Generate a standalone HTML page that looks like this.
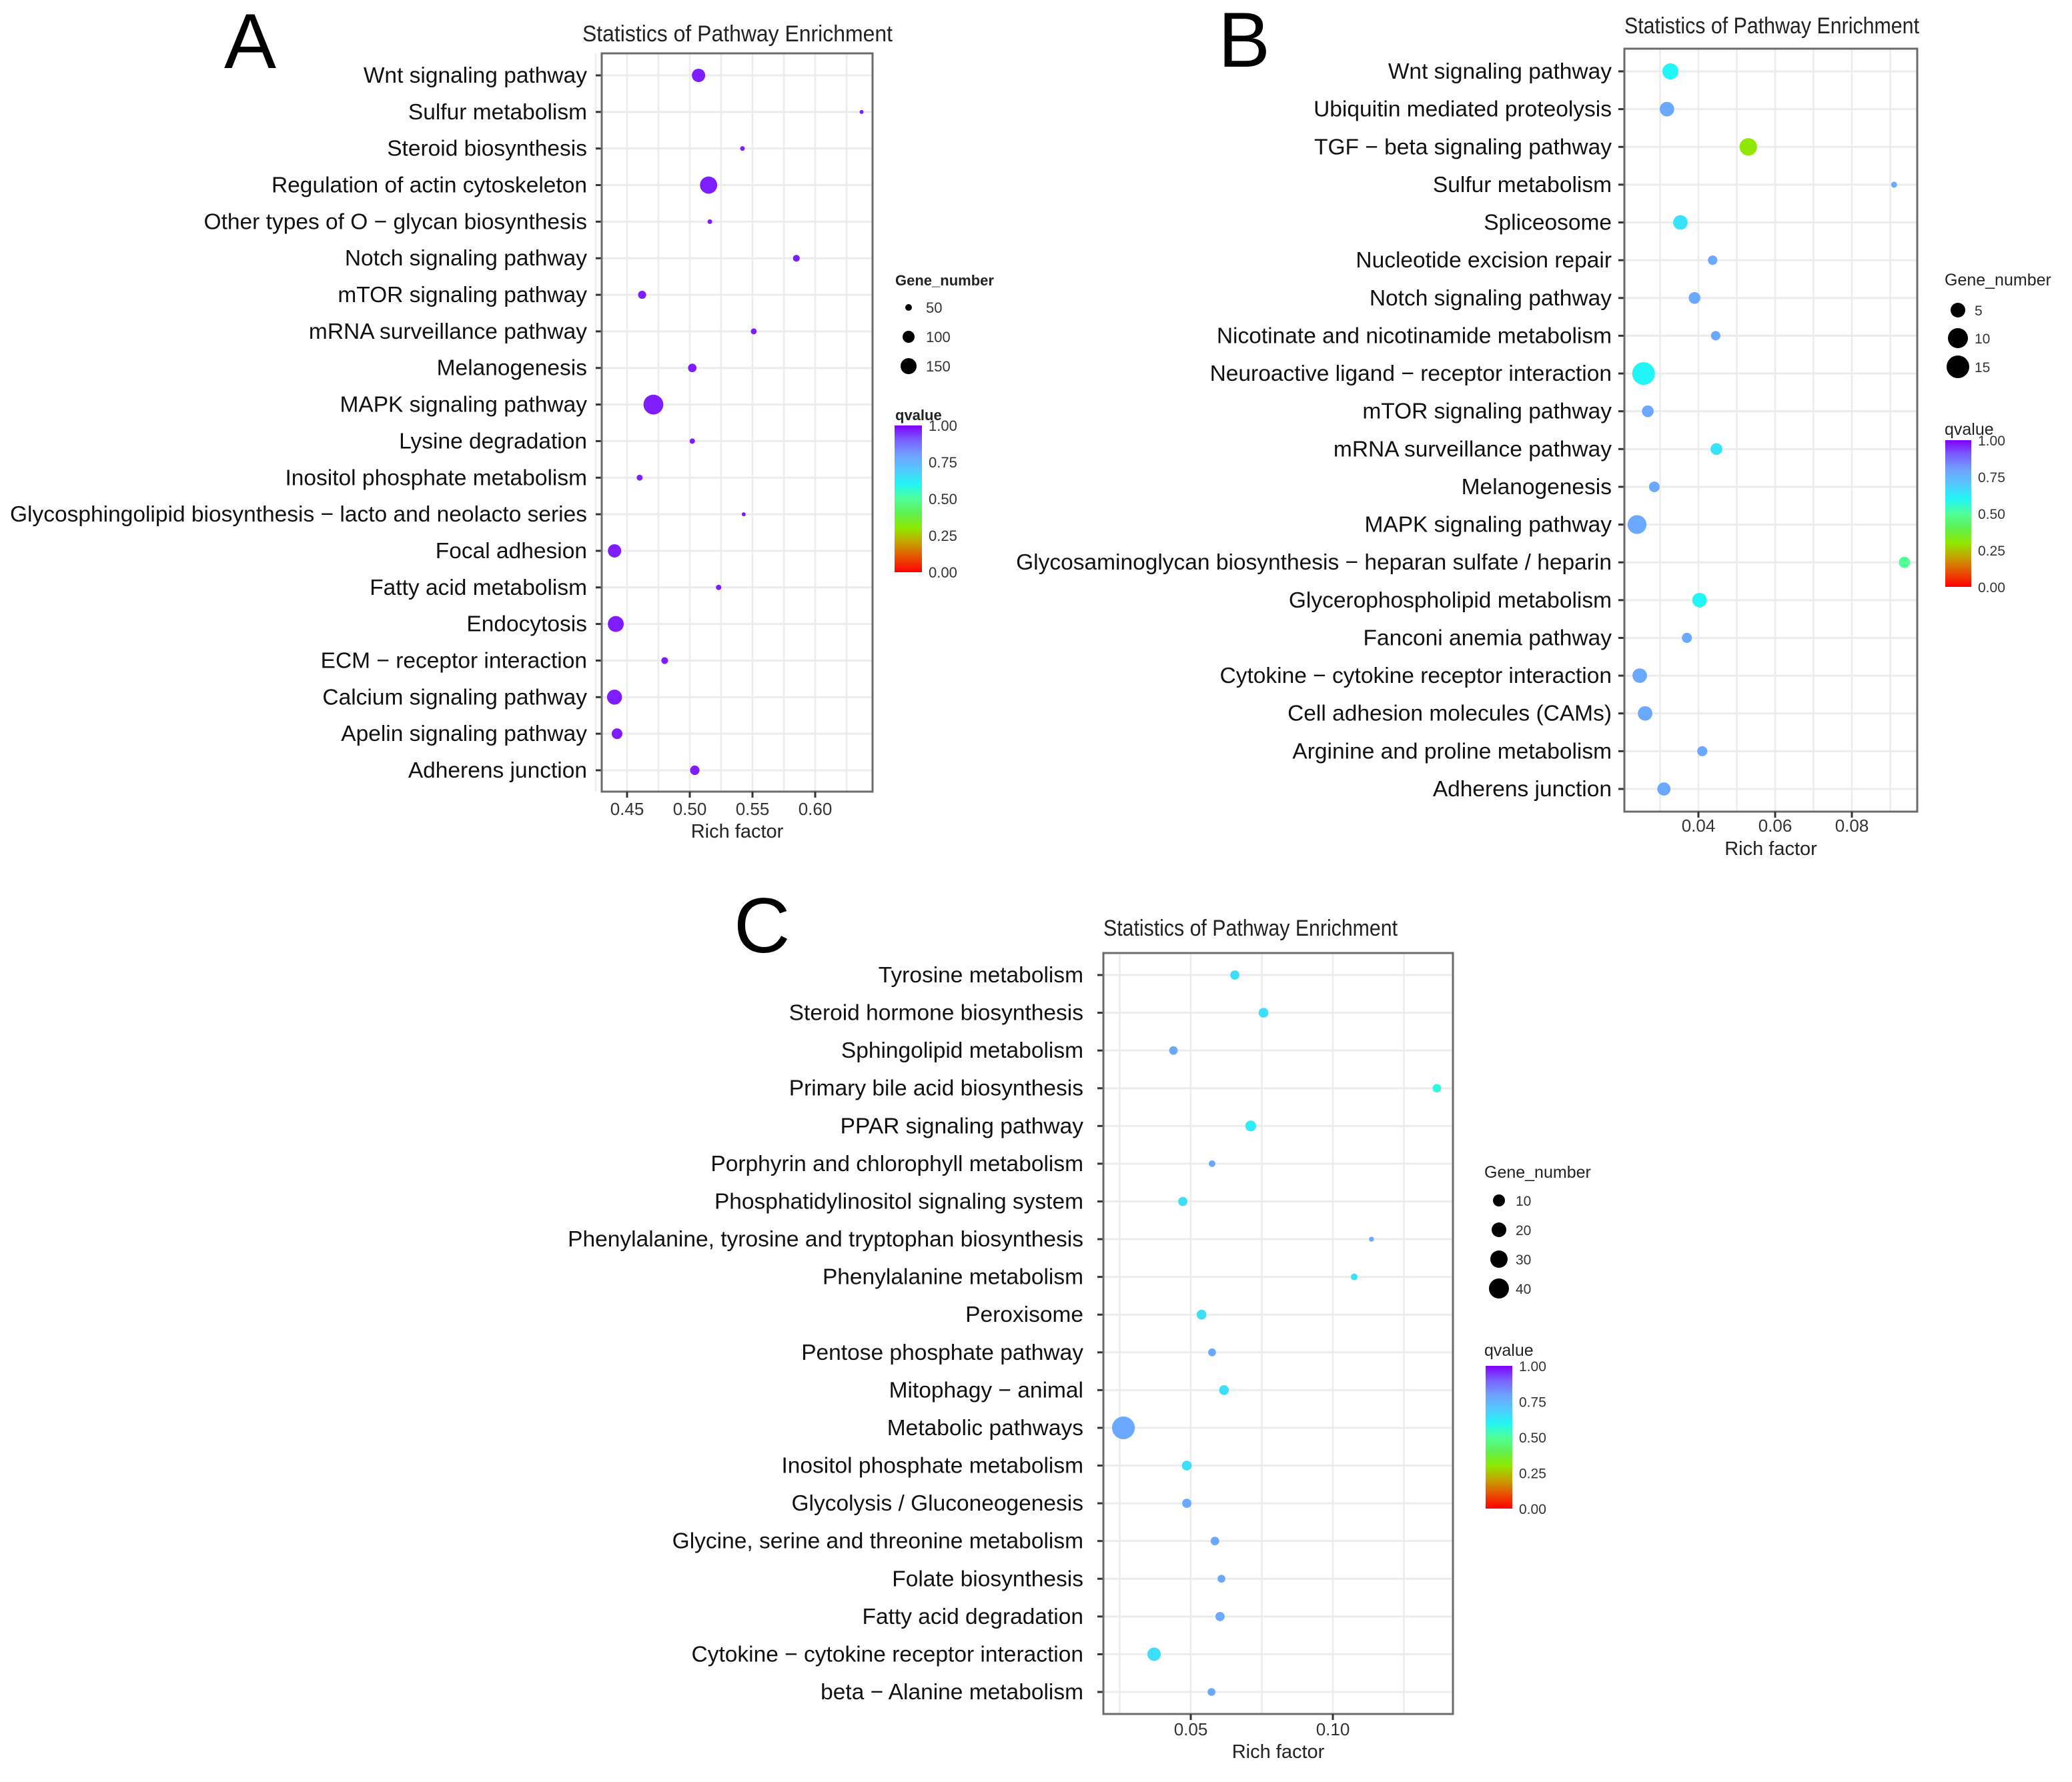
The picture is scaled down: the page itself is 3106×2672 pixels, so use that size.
<!DOCTYPE html>
<html><head><meta charset="utf-8">
<style>
html,body{margin:0;padding:0;background:#fff;}
svg{display:block;font-family:"Liberation Sans",Arial,sans-serif;}
</style></head>
<body>
<svg id="fig" width="3106" height="2672" viewBox="0 0 3106 2672" xmlns="http://www.w3.org/2000/svg">
<defs>
<linearGradient id="qgrad" x1="0" y1="1" x2="0" y2="0">
<stop offset="0" stop-color="#ff0000"/><stop offset="0.1" stop-color="#e85000"/><stop offset="0.2" stop-color="#c8a000"/>
<stop offset="0.3" stop-color="#90e800"/><stop offset="0.4" stop-color="#60f050"/><stop offset="0.5" stop-color="#50ff9a"/>
<stop offset="0.6" stop-color="#22f5f5"/><stop offset="0.7" stop-color="#55c8ff"/><stop offset="0.8" stop-color="#70a0ff"/>
<stop offset="0.9" stop-color="#7860ff"/><stop offset="1" stop-color="#8000ff"/>
</linearGradient>
</defs>
</svg>
<script>
// ---- Panel A data ----
const catsA = ["Wnt signaling pathway","Sulfur metabolism","Steroid biosynthesis","Regulation of actin cytoskeleton","Other types of O − glycan biosynthesis","Notch signaling pathway","mTOR signaling pathway","mRNA surveillance pathway","Melanogenesis","MAPK signaling pathway","Lysine degradation","Inositol phosphate metabolism","Glycosphingolipid biosynthesis − lacto and neolacto series","Focal adhesion","Fatty acid metabolism","Endocytosis","ECM − receptor interaction","Calcium signaling pathway","Apelin signaling pathway","Adherens junction"];
const richA = [0.507,0.637,0.542,0.515,0.516,0.585,0.462,0.551,0.502,0.471,0.502,0.460,0.543,0.440,0.523,0.441,0.480,0.440,0.442,0.504];
const genesA = [120,12,20,165,20,45,60,35,65,195,28,35,12,120,28,150,45,140,90,75];
const qA = [0.97,0.97,0.97,0.97,0.97,0.97,0.97,0.97,0.97,0.97,0.97,0.97,0.97,0.97,0.97,0.97,0.97,0.97,0.97,0.97];
const ticksA = [0.45,0.50,0.55,0.60];
const tickLabelsA = ["0.45","0.50","0.55","0.60"];
const sizeLegendA = ["50","100","150"];

// ---- Panel B data ----
const catsB = ["Wnt signaling pathway","Ubiquitin mediated proteolysis","TGF − beta signaling pathway","Sulfur metabolism","Spliceosome","Nucleotide excision repair","Notch signaling pathway","Nicotinate and nicotinamide metabolism","Neuroactive ligand − receptor interaction","mTOR signaling pathway","mRNA surveillance pathway","Melanogenesis","MAPK signaling pathway","Glycosaminoglycan biosynthesis − heparan sulfate / heparin","Glycerophospholipid metabolism","Fanconi anemia pathway","Cytokine − cytokine receptor interaction","Cell adhesion molecules (CAMs)","Arginine and proline metabolism","Adherens junction"];
const richB = [0.0327,0.0318,0.053,0.091,0.0353,0.0437,0.039,0.0445,0.0257,0.0268,0.0447,0.0285,0.024,0.0937,0.0403,0.037,0.0247,0.0261,0.041,0.031];
const genesB = [10,8,12,1,8,3,5,3,21,5,5,4,14,4.5,8,3.5,8,8,3.5,6.5];
const qB = [0.6,0.78,0.3,0.78,0.64,0.78,0.78,0.78,0.6,0.78,0.64,0.78,0.78,0.5,0.6,0.78,0.78,0.78,0.78,0.78];
const ticksB = [0.04,0.06,0.08];
const tickLabelsB = ["0.04","0.06","0.08"];
const sizeLegendB = ["5","10","15"];

// ---- Panel C data ----
const catsC = ["Tyrosine metabolism","Steroid hormone biosynthesis","Sphingolipid metabolism","Primary bile acid biosynthesis","PPAR signaling pathway","Porphyrin and chlorophyll metabolism","Phosphatidylinositol signaling system","Phenylalanine, tyrosine and tryptophan biosynthesis","Phenylalanine metabolism","Peroxisome","Pentose phosphate pathway","Mitophagy − animal","Metabolic pathways","Inositol phosphate metabolism","Glycolysis / Gluconeogenesis","Glycine, serine and threonine metabolism","Folate biosynthesis","Fatty acid degradation","Cytokine − cytokine receptor interaction","beta − Alanine metabolism"];
const richC = [0.0655,0.0756,0.0439,0.1366,0.0711,0.0575,0.0472,0.1136,0.1075,0.0538,0.0575,0.0617,0.0263,0.0486,0.0486,0.0585,0.0608,0.0603,0.0371,0.0573];
const genesC = [6,7,5,5,9,2.5,6,1,2.5,7,4,7,50,7,6,5,4,6,15,4];
const qC = [0.65,0.65,0.78,0.57,0.62,0.78,0.65,0.78,0.65,0.65,0.78,0.65,0.78,0.65,0.78,0.78,0.78,0.78,0.65,0.78];
const ticksC = [0.05,0.10];
const tickLabelsC = ["0.05","0.10"];
const sizeLegendC = ["10","20","30","40"];

const qTicks = ["1.00","0.75","0.50","0.25","0.00"];

const NS = "http://www.w3.org/2000/svg";
const svg = document.getElementById('fig');
function mk(tag, attrs, parent){ const e=document.createElementNS(NS,tag); for(const k in attrs) e.setAttribute(k,attrs[k]); (parent||svg).appendChild(e); return e; }

const stops=[[0,[255,0,0]],[0.1,[232,80,0]],[0.2,[200,160,0]],[0.3,[144,232,0]],[0.4,[96,240,80]],[0.5,[80,255,154]],[0.6,[34,245,245]],[0.7,[85,200,255]],[0.8,[112,160,255]],[0.9,[120,96,255]],[1,[128,0,255]]];
function qColor(q){
  for(let i=0;i<stops.length-1;i++){ const a=stops[i],b=stops[i+1];
    if(q<=b[0]){ const t=(q-a[0])/(b[0]-a[0]); const c=a[1].map((v,j)=>Math.round(v+(b[1][j]-v)*t)); return `rgb(${c[0]},${c[1]},${c[2]})`; } }
  return 'rgb(128,0,255)';
}

function panel(cfg){
  const g = mk('g',{});
  
  
  const {L,R,T,B,xmin,xmax,row0,rowStep} = cfg;
  const xs = v => L + (v-xmin)/(xmax-xmin)*(R-L);
  const ys = i => row0 + i*rowStep;
  cfg.grid.forEach(v=>{ const x=xs(v);
    const gl = mk('line',{x1:x,x2:x,y1:T,y2:B,stroke:'#ececec','stroke-width':2.5},g);
    
    
  });
  cfg.cats.forEach((c,i)=>{ const y=ys(i);
    const gl = mk('line',{x1:L,x2:R,y1:y,y2:y,stroke:'#ececec','stroke-width':3},g);
    
    
    const tk = mk('line',{x1:L-9,x2:L,y1:y,y2:y,stroke:'#333','stroke-width':3},g);
    
    
    const t = mk('text',{x:cfg.labelX,y:y+11,'text-anchor':'end','font-size':cfg.labelSize,fill:'#111'},g);
    t.textContent=c;
    
    
  });
  const frame = mk('rect',{x:L,y:T,width:R-L,height:B-T,fill:'none',stroke:'#6b6b6b','stroke-width':3},g);
  
  
  cfg.ticks.forEach((v,i)=>{ const x=xs(v);
    const tk = mk('line',{x1:x,x2:x,y1:B,y2:B+9,stroke:'#333','stroke-width':3},g);
    
    
    const t = mk('text',{x:x,y:cfg.tickY,'text-anchor':'middle','font-size':26,fill:'#333'},g);
    t.textContent=cfg.tickLabels[i];
    
    
  });
  cfg.rich.forEach((v,i)=>{
    const c = mk('circle',{cx:xs(v),cy:ys(i),r:cfg.rf(cfg.genes[i]),fill:qColor(cfg.q[i])},g);
    
    
  });
  const xt = mk('text',{x:(L+R)/2,y:cfg.xTitleY,'text-anchor':'middle','font-size':29,fill:'#222'},g);
  xt.textContent='Rich factor';
  
  
  const tt = mk('text',{x:cfg.titleX,y:cfg.titleY,'font-size':34,fill:'#222',textLength:cfg.titleW,lengthAdjust:'spacingAndGlyphs'},g);
  tt.textContent='Statistics of Pathway Enrichment';
  
  
  const pl = mk('text',{x:cfg.letterX,y:cfg.letterY,'font-size':117,fill:'#000'},g);
  pl.textContent=cfg.letter;
  
  
  const lg = cfg.leg;
  const st = mk('text',{x:lg.x,y:lg.titleY,'font-size':lg.fs,'font-weight':lg.bold?'bold':'normal',fill:'#222'},g);
  st.textContent='Gene_number';
  
  
  cfg.sizeLegend.forEach((s,i)=>{
    const c = mk('circle',{cx:lg.dotX,cy:lg.dotY[i],r:lg.dotR[i],fill:'#000'},g);
    
    
    const t = mk('text',{x:lg.textX,y:lg.dotY[i]+8,'font-size':lg.fs2,fill:'#333'},g);
    t.textContent=s;
    
    
  });
  const qt = mk('text',{x:lg.x,y:lg.qTitleY,'font-size':lg.fs,'font-weight':lg.bold?'bold':'normal',fill:'#222'},g);
  qt.textContent='qvalue';
  
  
  const cb = mk('rect',{x:lg.cbX,y:lg.cbT,width:lg.cbW,height:lg.cbB-lg.cbT,fill:'url(#qgrad)'},g);
  
  
  qTicks.forEach((s,i)=>{ const y=lg.cbT+i*(lg.cbB-lg.cbT)/4;
    const t = mk('text',{x:lg.cbX+lg.cbW+10,y:y+8,'font-size':lg.fs2,fill:'#333'},g);
    t.textContent=s;
    
    
  });
}

panel({name:'panel-a',letter:'A',letterX:336,letterY:102,L:902,R:1308,T:80,B:1187,
  xmin:0.45-(940-902)/1880,xmax:0.45+(1308-940)/1880,row0:113,rowStep:(1155-113)/19,
  grid:[0.425,0.45,0.475,0.5,0.525,0.55,0.575,0.6,0.625],ticks:ticksA,tickLabels:tickLabelsA,tickY:1222,xTitleY:1256,
  cats:catsA,rich:richA,genes:genesA,q:qA,rf:n=>2.2+0.065*n,labelX:880,labelSize:33.5,
  titleX:873,titleY:62,titleW:465,sizeLegend:sizeLegendA,
  leg:{x:1342,titleY:428,fs:22,fs2:22,bold:true,dotX:1362,dotY:[461,505,549],dotR:[5,9,12],textX:1388,qTitleY:630,cbX:1341,cbW:41,cbT:638,cbB:858}});

panel({name:'panel-b',letter:'B',letterX:1826,letterY:100,L:2435,R:2874,T:73,B:1217,
  xmin:0.04-(2546-2435)/5750,xmax:0.04+(2874-2546)/5750,row0:107,rowStep:(1183-107)/19,
  grid:[0.03,0.04,0.05,0.06,0.07,0.08,0.09],ticks:ticksB,tickLabels:tickLabelsB,tickY:1247,xTitleY:1282,
  cats:catsB,rich:richB,genes:genesB,q:qB,rf:n=>1+3.5*Math.sqrt(n),labelX:2416,labelSize:33.5,
  titleX:2435,titleY:50,titleW:442,sizeLegend:sizeLegendB,
  leg:{x:2915,titleY:428,fs:25,fs2:21,bold:false,dotX:2935,dotY:[465,507,550],dotR:[11,15,17],textX:2960,qTitleY:652,cbX:2916,cbW:39,cbT:660,cbB:880}});

panel({name:'panel-c',letter:'C',letterX:1100,letterY:1428,L:1654,R:2178,T:1429,B:2570,
  xmin:0.05-(1785-1654)/4260,xmax:0.10+(2178-1998)/4260,row0:1462,rowStep:(2537-1462)/19,
  grid:[0.025,0.05,0.075,0.10,0.125],ticks:ticksC,tickLabels:tickLabelsC,tickY:2602,xTitleY:2636,
  cats:catsC,rich:richC,genes:genesC,q:qC,rf:n=>1.5+2.2*Math.sqrt(n),labelX:1624,labelSize:33.5,
  titleX:1654,titleY:1403,titleW:441,sizeLegend:sizeLegendC,
  leg:{x:2225,titleY:1766,fs:25,fs2:21,bold:false,dotX:2247,dotY:[1800,1844,1888,1932],dotR:[9,11,13,15],textX:2272,qTitleY:2033,cbX:2227,cbW:40,cbT:2048,cbB:2262}});
</script>
</body></html>
